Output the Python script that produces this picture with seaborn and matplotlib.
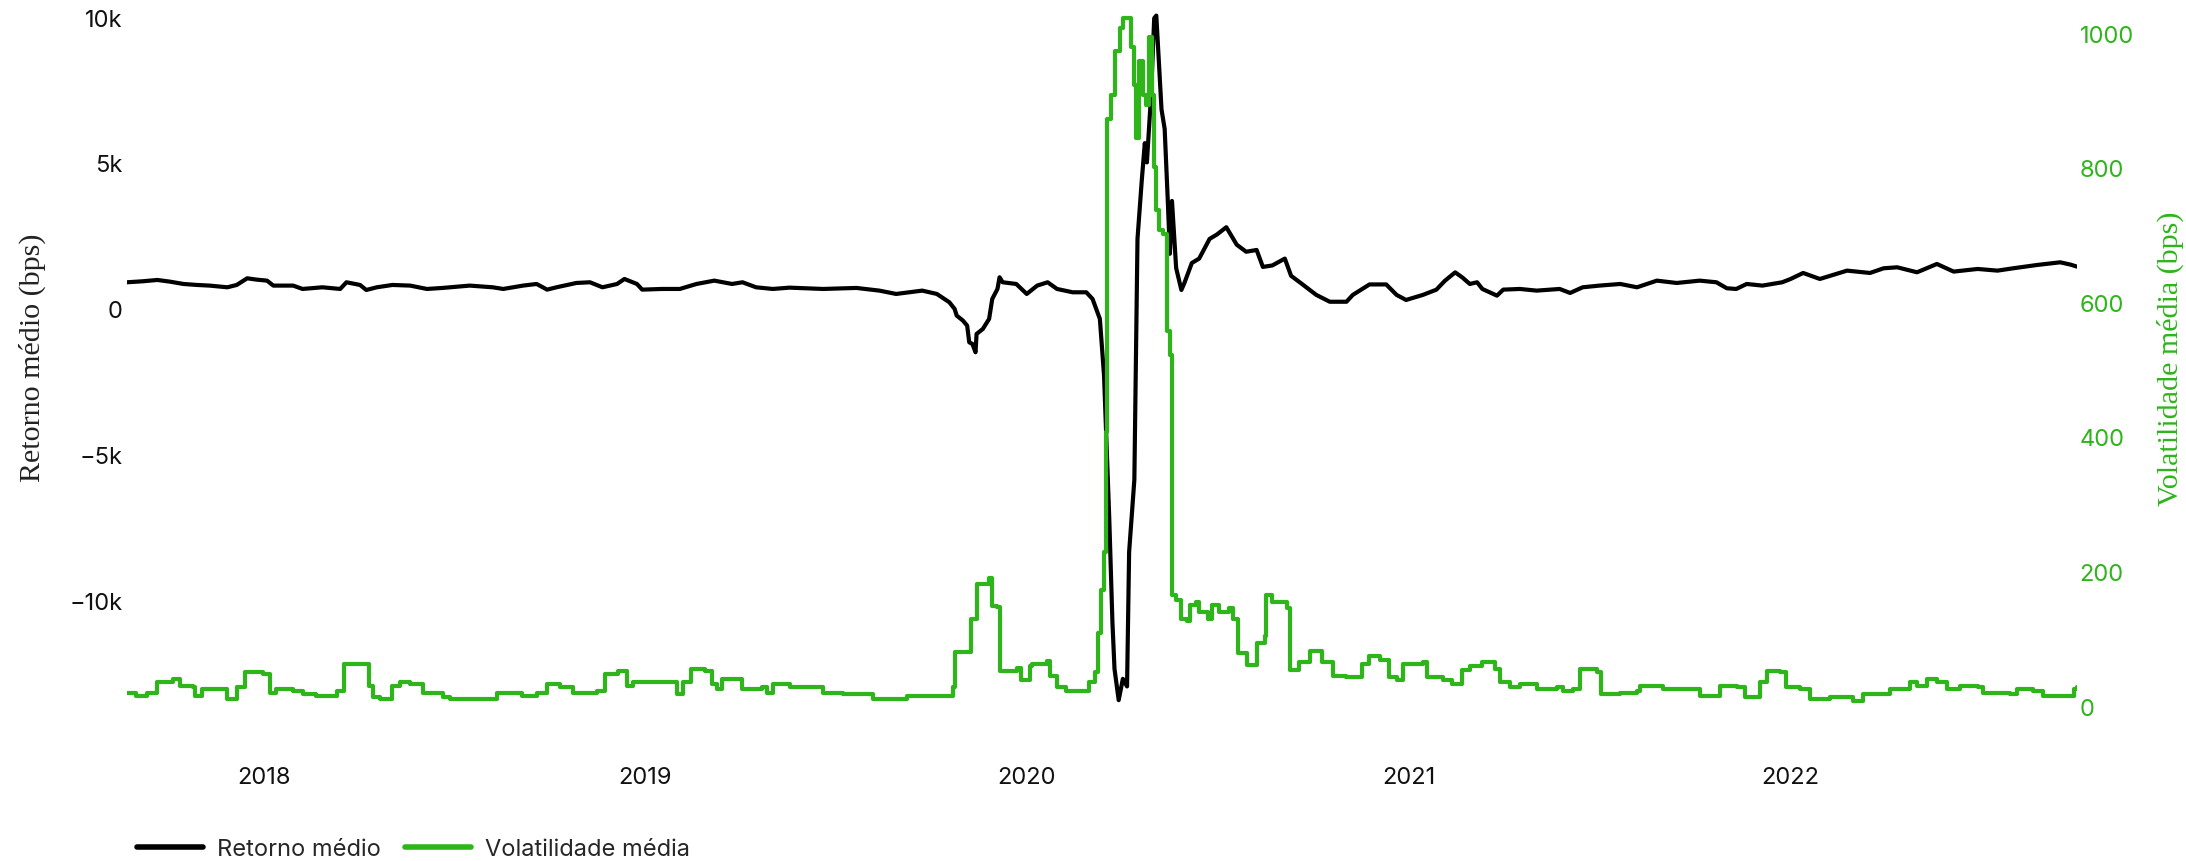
import pandas as pd
import matplotlib.pyplot as plt
import matplotlib.dates as mdates
from matplotlib.ticker import FuncFormatter
import seaborn as sns

# Retorno médio (bps)
ret_dates = [
    "2017-08-23", "2017-09-07", "2017-09-21", "2017-10-03", "2017-10-16", "2017-10-29",
    "2017-11-10", "2017-11-27", "2017-12-06", "2017-12-16", "2017-12-25", "2018-01-04",
    "2018-01-10", "2018-01-29", "2018-02-07", "2018-02-26", "2018-03-15", "2018-03-21",
    "2018-04-03", "2018-04-09", "2018-04-19", "2018-05-04", "2018-05-21", "2018-06-06",
    "2018-06-21", "2018-06-28", "2018-07-17", "2018-08-08", "2018-08-18", "2018-09-06",
    "2018-09-19", "2018-09-29", "2018-10-08", "2018-10-27", "2018-11-09", "2018-11-21",
    "2018-12-05", "2018-12-12", "2018-12-24", "2018-12-29", "2019-01-17", "2019-02-03",
    "2019-02-19", "2019-03-08", "2019-03-25", "2019-04-04", "2019-04-17", "2019-05-03",
    "2019-05-19", "2019-06-20", "2019-07-22", "2019-08-13", "2019-08-29", "2019-09-23",
    "2019-10-07", "2019-10-19", "2019-10-24", "2019-10-26", "2019-11-01", "2019-11-05",
    "2019-11-07", "2019-11-10", "2019-11-13", "2019-11-14", "2019-11-20", "2019-11-26",
    "2019-11-29", "2019-12-04", "2019-12-06", "2019-12-09", "2019-12-22", "2020-01-01",
    "2020-01-11", "2020-01-21", "2020-01-30", "2020-02-14", "2020-02-27", "2020-03-04",
    "2020-03-11", "2020-03-15", "2020-03-20", "2020-03-23", "2020-03-25", "2020-03-29",
    "2020-04-02", "2020-04-06", "2020-04-08", "2020-04-13", "2020-04-16", "2020-04-20",
    "2020-04-23", "2020-04-25", "2020-04-29", "2020-05-02", "2020-05-04", "2020-05-09",
    "2020-05-12", "2020-05-15", "2020-05-17", "2020-05-19", "2020-05-23", "2020-05-28",
    "2020-05-31", "2020-06-07", "2020-06-14", "2020-06-24", "2020-07-01", "2020-07-10",
    "2020-07-20", "2020-07-29", "2020-08-08", "2020-08-14", "2020-08-23", "2020-09-04",
    "2020-09-10", "2020-09-21", "2020-10-04", "2020-10-17", "2020-11-02", "2020-11-08",
    "2020-11-24", "2020-12-10", "2020-12-20", "2020-12-29", "2021-01-14", "2021-01-27",
    "2021-02-04", "2021-02-14", "2021-02-21", "2021-02-28", "2021-03-07", "2021-03-12",
    "2021-03-26", "2021-04-01", "2021-04-17", "2021-05-03", "2021-05-25", "2021-06-04",
    "2021-06-16", "2021-07-02", "2021-07-22", "2021-08-07", "2021-08-26", "2021-09-14",
    "2021-10-06", "2021-10-22", "2021-11-01", "2021-11-10", "2021-11-20", "2021-12-05",
    "2021-12-24", "2022-01-01", "2022-01-13", "2022-01-20", "2022-01-29", "2022-02-24",
    "2022-03-18", "2022-03-31", "2022-04-13", "2022-05-02", "2022-05-21", "2022-06-06",
    "2022-06-29", "2022-07-18", "2022-08-02", "2022-08-25", "2022-09-16", "2022-09-26",
    "2022-10-02",
]
ret_values = [
    914, 948, 993, 936, 856, 822,
    800, 742, 822, 1050, 1005, 970,
    800, 800, 685, 742, 685, 914,
    822, 650, 742, 822, 800, 685,
    720, 742, 800, 742, 685, 800,
    856, 662, 742, 890, 914, 742,
    856, 1027, 856, 662, 685, 685,
    856, 970, 856, 914, 742, 685,
    730, 685, 720, 628, 514, 628,
    514, 228, 0, -228, -400, -571,
    -1142, -1199, -1484, -856, -685, -342,
    342, 685, 1085, 914, 856, 514,
    800, 914, 685, 571, 571, 342,
    -342, -2284, -7193, -10720, -12330, -13400,
    -12670, -12930, -8320, -5850, 2400, 4360,
    5680, 5020, 7330, 9960, 10050, 6830,
    6170, 3700, 1890, 3700, 1400, 650,
    900, 1575, 1725, 2400, 2550, 2800,
    2200, 1960, 2020, 1440, 1490, 1725,
    1135, 840, 483, 247, 247, 480,
    840, 840, 480, 308, 480, 660,
    960, 1254, 1075, 856, 914, 685,
    456, 662, 685, 628, 685, 548,
    742, 800, 856, 742, 970, 890,
    970, 914, 708, 685, 856, 800,
    914, 1027, 1233, 1142, 1027, 1313,
    1233, 1393, 1427, 1256, 1541, 1280,
    1370, 1313, 1393, 1507, 1598, 1518,
    1450,
]

# Volatilidade média (bps)
vol_dates = [
    "2017-08-23", "2017-09-01", "2017-09-11", "2017-09-21", "2017-10-03", "2017-10-06",
    "2017-10-13", "2017-10-25", "2017-10-27", "2017-11-03", "2017-11-20", "2017-11-27",
    "2017-12-06", "2017-12-14", "2017-12-31", "2018-01-07", "2018-01-13", "2018-01-29",
    "2018-02-07", "2018-02-20", "2018-03-12", "2018-03-19", "2018-04-05", "2018-04-12",
    "2018-04-15", "2018-04-22", "2018-05-04", "2018-05-11", "2018-05-21", "2018-06-02",
    "2018-06-21", "2018-06-28", "2018-08-05", "2018-08-12", "2018-08-31", "2018-09-05",
    "2018-09-19", "2018-09-29", "2018-10-11", "2018-10-24", "2018-11-16", "2018-11-23",
    "2018-12-06", "2018-12-14", "2018-12-20", "2019-01-10", "2019-01-31", "2019-02-06",
    "2019-02-14", "2019-02-27", "2019-03-06", "2019-03-11", "2019-03-15", "2019-03-29",
    "2019-04-04", "2019-04-23", "2019-04-27", "2019-05-03", "2019-05-19", "2019-06-20",
    "2019-07-09", "2019-08-07", "2019-09-08", "2019-10-16", "2019-10-22", "2019-10-24",
    "2019-11-04", "2019-11-09", "2019-11-14", "2019-11-26", "2019-11-29", "2019-12-04",
    "2019-12-06", "2019-12-23", "2019-12-27", "2020-01-04", "2020-01-06", "2020-01-20",
    "2020-01-23", "2020-01-30", "2020-02-08", "2020-02-27", "2020-03-01", "2020-03-06",
    "2020-03-09", "2020-03-12", "2020-03-15", "2020-03-17", "2020-03-18", "2020-03-22",
    "2020-03-25", "2020-03-28", "2020-03-30", "2020-04-02", "2020-04-06", "2020-04-10",
    "2020-04-13", "2020-04-15", "2020-04-17", "2020-04-21", "2020-04-24", "2020-04-27",
    "2020-04-30", "2020-05-02", "2020-05-04", "2020-05-07", "2020-05-10", "2020-05-14",
    "2020-05-17", "2020-05-19", "2020-05-23", "2020-05-28", "2020-06-02", "2020-06-05",
    "2020-06-11", "2020-06-14", "2020-06-22", "2020-06-26", "2020-07-03", "2020-07-13",
    "2020-07-16", "2020-07-21", "2020-07-29", "2020-07-30", "2020-08-08", "2020-08-16",
    "2020-08-17", "2020-08-23", "2020-09-06", "2020-09-09", "2020-09-18", "2020-09-28",
    "2020-10-10", "2020-10-20", "2020-11-02", "2020-11-17", "2020-11-24", "2020-12-04",
    "2020-12-13", "2020-12-20", "2020-12-26", "2021-01-14", "2021-01-18", "2021-02-02",
    "2021-02-11", "2021-02-21", "2021-02-28", "2021-03-12", "2021-03-24", "2021-03-29",
    "2021-04-07", "2021-04-17", "2021-05-03", "2021-05-22", "2021-05-28", "2021-06-07",
    "2021-06-13", "2021-06-30", "2021-07-04", "2021-07-22", "2021-08-07", "2021-08-10",
    "2021-08-26", "2021-09-01", "2021-10-06", "2021-10-25", "2021-11-11", "2021-11-18",
    "2021-12-03", "2021-12-09", "2021-12-22", "2021-12-28", "2022-01-10", "2022-01-20",
    "2022-02-08", "2022-03-02", "2022-03-11", "2022-03-31", "2022-04-06", "2022-04-25",
    "2022-05-02", "2022-05-12", "2022-05-21", "2022-05-31", "2022-06-12", "2022-06-29",
    "2022-07-04", "2022-07-30", "2022-08-06", "2022-08-21", "2022-08-31", "2022-09-19",
    "2022-09-29", "2022-10-02",
]
vol_values = [
    20, 15, 20, 35, 35, 40,
    30, 28, 15, 25, 25, 10,
    28, 50, 48, 20, 25, 23,
    18, 15, 23, 62, 62, 30,
    13, 10, 30, 35, 33, 20,
    13, 10, 10, 20, 20, 15,
    20, 33, 28, 20, 23, 47,
    52, 30, 35, 35, 18, 35,
    55, 52, 33, 25, 40, 40,
    25, 28, 20, 33, 29, 20,
    18, 10, 15, 15, 28, 80,
    80, 129, 181, 191, 149, 147,
    52, 57, 38, 60, 63, 67,
    45, 29, 22, 22, 36, 50,
    108, 172, 229, 408, 873, 908,
    973, 973, 1008, 1023, 1023, 980,
    923, 844, 958, 908, 894, 994,
    908, 801, 737, 708, 701, 558,
    522, 165, 158, 129, 127, 150,
    154, 140, 129, 150, 140, 145,
    129, 79, 79, 61, 94, 104,
    165, 154, 145, 54, 65, 82,
    66, 45, 43, 63, 74, 68,
    43, 38, 63, 65, 43, 38,
    33, 53, 60, 65, 55, 35,
    28, 33, 25, 28, 23, 25,
    55, 50, 18, 20, 23, 30,
    30, 25, 15, 30, 28, 13,
    35, 52, 50, 28, 25, 10,
    13, 8, 18, 18, 25, 35,
    30, 40, 35, 25, 30, 28,
    20, 18, 25, 23, 15, 15,
    25, 28,
]

green = "#2db51a"

sns.set_style("white")
plt.rcParams["font.family"] = ["Inter", "DejaVu Sans"]

ret = pd.DataFrame({"date": pd.to_datetime(ret_dates), "value": ret_values})
vol = pd.DataFrame({"date": pd.to_datetime(vol_dates), "value": vol_values})

fig = plt.figure(figsize=(10.93, 4.31), dpi=200)
ax = fig.add_axes([0.0581, 0.1392, 0.892, 0.8492])
ax2 = ax.twinx()

sns.lineplot(data=ret, x="date", y="value", ax=ax, color="black", lw=1.5,
             estimator=None, label="Retorno médio", legend=False)
# the volatility is a rolling window, so it moves in steps
sns.lineplot(data=vol, x="date", y="value", ax=ax2, color=green, lw=1.5,
             estimator=None, drawstyle="steps-post",
             label="Volatilidade média", legend=False)

ax.set_xlim(ret["date"].min(), ret["date"].max())
ax.set_ylim(-14800, 10275)
ax2.set_ylim(-52, 1036)

ax.set_yticks([-10000, -5000, 0, 5000, 10000])
ax.yaxis.set_major_formatter(FuncFormatter(
    lambda v, p: "0" if v == 0 else f"{v / 1000:g}k".replace("-", "\u2212")))
ax2.set_yticks(range(0, 1001, 200))

ax.xaxis.set_major_locator(mdates.YearLocator())
ax.xaxis.set_major_formatter(mdates.DateFormatter("%Y"))

for a in (ax, ax2):
    for s in a.spines.values():
        s.set_visible(False)
    a.set_xlabel("")
    a.set_ylabel("")
    a.grid(False)

ax.tick_params(axis="y", length=0, pad=1.5, labelsize=8.5, labelcolor="#111111")
ax.tick_params(axis="x", length=4, width=0.6, color="#cccccc", pad=5,
               labelsize=8.5, labelcolor="#111111")
ax2.tick_params(axis="y", length=0, pad=1, labelsize=8.5, labelcolor=green)

serif = ["Liberation Serif", "DejaVu Serif"]
fig.text(32 / 2186, 1 - 358 / 862, "Retorno médio (bps)", rotation=90,
         ha="center", va="center", fontsize=10.8, family=serif, color="#222222")
fig.text(2170 / 2186, 1 - 359 / 862, "Volatilidade média (bps)", rotation=90,
         ha="center", va="center", fontsize=10.8, family=serif, color=green)

handles = ax.get_lines()[:1] + ax2.get_lines()[:1]
leg = fig.legend(handles, ["Retorno médio", "Volatilidade média"],
                 loc="center left", bbox_to_anchor=(137 / 2186, 1 - 850 / 862),
                 ncol=2, frameon=False, fontsize=8.5, handlelength=2.8,
                 handletextpad=0.6, columnspacing=1.0, borderpad=0, borderaxespad=0)
for line in leg.get_lines():
    line.set_linewidth(2)

fig.savefig("out.png", dpi=200)
